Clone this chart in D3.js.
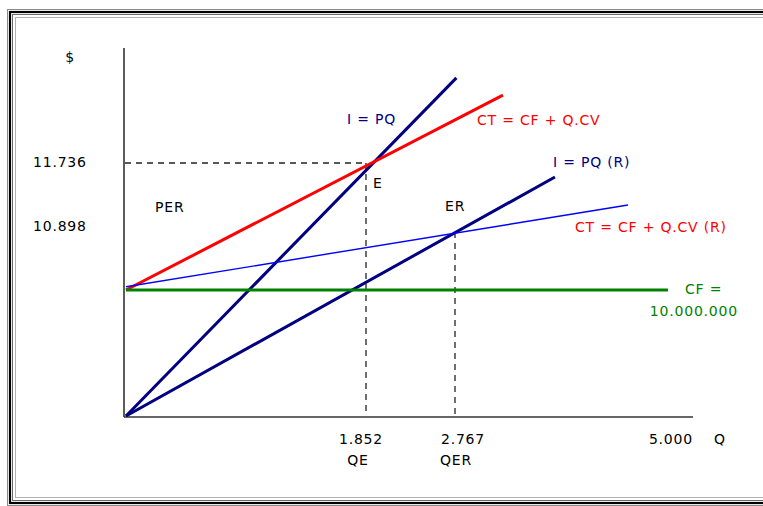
<!DOCTYPE html>
<html lang="pt">
<head>
<meta charset="utf-8">
<title>Ponto de equilíbrio</title>
<script src="https://d3js.org/d3.v7.min.js"></script>
<style>
  body { margin: 0; background: #fff; }
  svg { display: block; }
  text { font-family: "DejaVu Sans", sans-serif; font-size: 14px; letter-spacing: 0.8px; }
</style>
</head>
<body>
<script>
// reference points on the axes (Q in thousands, $ in millions)
const qBreaks = [0, 1.852, 2.767, 5.000];
const vBreaks = [0, 10.000, 10.898, 11.736];

const qTicks = [1.852, 2.767, 5.000];
const qTickLabels = ["1.852", "2.767", "5.000"];
const qTickNames = ["QE", "QER", ""];
const vTicks = [11.736, 10.898];
const vTickLabels = ["11.736", "10.898"];

// lines: start and end points [Q, $]
const lineNames = ["I = PQ", "CT = CF + Q.CV", "I = PQ (R)", "CT = CF + Q.CV (R)", "CF"];
const lineStart = [[0, 0], [0, 10.0], [0, 0], [0, 10.05], [0, 10.0]];
const lineEnd = [[2.78, 12.77], [3.217, 12.56], [3.705, 11.566], [4.39, 11.226], [4.765, 10.0]];
const lineColors = ["#000080", "#ff0000", "#000080", "#0000ff", "#008000"];
const lineWidths = [3, 3, 3, 1.4, 3];

// equilibrium points
const eqNames = ["E", "ER"];
const eqQ = [1.852, 2.767];
const eqV = [11.736, 10.898];

const W = 763, H = 506;
const svg = d3.select("body").append("svg").attr("width", W).attr("height", H);

// double frame
const frame = [
  {o: 7.5, c: "#8a8a8a", w: 1},
  {o: 10, c: "#000", w: 2.2},
  {o: 12.5, c: "#6a6a6a", w: 1},
  {o: 15.5, c: "#b0b0b0", w: 1}
];
frame.forEach(f => {
  svg.append("rect")
    .attr("x", f.o).attr("y", f.o + 2)
    .attr("width", 900).attr("height", 511 - 2 * f.o)
    .attr("fill", "none").attr("stroke", f.c).attr("stroke-width", f.w);
});

const x = d3.scaleLinear().domain(qBreaks).range([126, 366, 455, 693]);
const y = d3.scaleLinear().domain(vBreaks).range([416, 290, 232, 163]);

// axes
svg.append("line").attr("x1", 124).attr("x2", 124).attr("y1", 48).attr("y2", 417)
  .attr("stroke", "#333").attr("stroke-width", 1.6);
svg.append("line").attr("x1", 124).attr("x2", x(5)).attr("y1", 417).attr("y2", 417)
  .attr("stroke", "#333").attr("stroke-width", 1.6);

// dashed guides
const dash = "6,5";
svg.append("line").attr("x1", 125).attr("x2", x(eqQ[0])).attr("y1", y(eqV[0])).attr("y2", y(eqV[0]))
  .attr("stroke", "#222").attr("stroke-width", 1.3).attr("stroke-dasharray", dash);
eqQ.forEach((q, i) => {
  svg.append("line").attr("x1", x(q)).attr("x2", x(q)).attr("y1", y(eqV[i])).attr("y2", 416)
    .attr("stroke", "#222").attr("stroke-width", 1.3).attr("stroke-dasharray", dash);
});

// cost / revenue lines
lineNames.forEach((n, i) => {
  svg.append("line")
    .attr("x1", x(lineStart[i][0])).attr("y1", y(lineStart[i][1]))
    .attr("x2", x(lineEnd[i][0])).attr("y2", y(lineEnd[i][1]))
    .attr("stroke", lineColors[i]).attr("stroke-width", lineWidths[i]);
});

// text
const label = (tx, ty, s, col, anchor) => svg.append("text")
  .attr("x", tx).attr("y", ty).attr("fill", col || "#000")
  .attr("text-anchor", anchor || "start").attr("dominant-baseline", "middle").text(s);

label(70, 58, "$", "#000", "middle");
vTicks.forEach((v, i) => label(33, y(v) + (i ? -5 : 0), vTickLabels[i]));
qTicks.forEach((q, i) => {
  const last = i === qTicks.length - 1;
  const dx = [-5, 8, 0][i];
  label(x(q) + dx, 440, qTickLabels[i], "#000", last ? "end" : "middle");
  if (qTickNames[i]) label(x(q) + [-8, 1][i], 461, qTickNames[i], "#000", "middle");
});
label(714, 440, "Q");
label(155, 208, "PER");
label(x(eqQ[0]) + 7, 184, eqNames[0]);
label(x(eqQ[1]) - 10, 207, eqNames[1]);

label(347, 120, "I = PQ", lineColors[0]);
label(477, 121, "CT = CF + Q.CV", lineColors[1]);
label(553, 163, "I = PQ (R)", lineColors[2]);
label(575, 228, "CT = CF + Q.CV (R)", lineColors[1]);
label(685, 290, "CF =", lineColors[4]);
label(738, 312, "10.000.000", lineColors[4], "end");
</script>
</body>
</html>
